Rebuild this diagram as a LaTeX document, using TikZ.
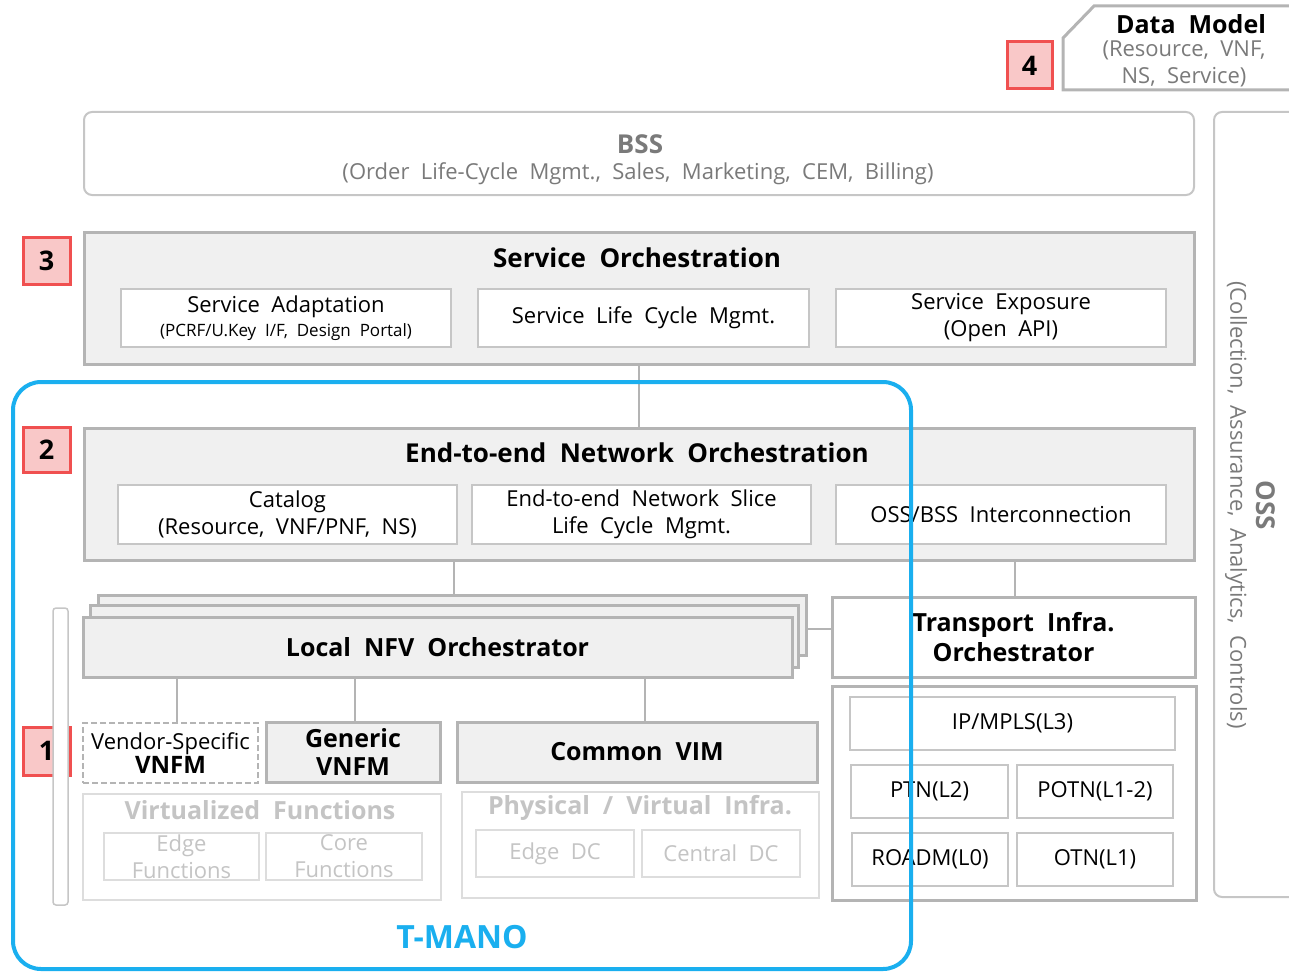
\documentclass[tikz,border=0pt]{standalone}
\usepackage{fontspec}
\setmainfont{Open Sans}[WordSpace=2]
\usetikzlibrary{calc}
\definecolor{boxfill}{HTML}{F0F0F0}
\definecolor{boxline}{HTML}{B4B4B4}
\definecolor{subline}{HTML}{C6C6C6}
\definecolor{numfill}{HTML}{F9C8C8}
\definecolor{numline}{HTML}{F05050}
\definecolor{fadeline}{HTML}{DDDDDD}
\definecolor{fadetext}{HTML}{C4C4C4}
\definecolor{graytext}{HTML}{7A7A7A}
\definecolor{tmano}{HTML}{1AAFEF}
\newcommand\fsz[2]{\fontsize{#1}{#2}\selectfont}
\tikzset{
  orch/.style={draw=boxline, fill=boxfill, line width=3pt, inner sep=0pt},
  subbox/.style={draw=subline, fill=white, line width=2pt, inner sep=0pt, align=center},
  numbox/.style={draw=numline, fill=numfill, line width=3pt, inner sep=0pt, font=\fsz{27}{30}\bfseries},
  fadebox/.style={draw=fadeline, fill=white, line width=2pt, inner sep=0pt, align=center, text=fadetext},
  conn/.style={draw=boxline, line width=2.5pt},
  txt/.style={inner sep=0pt, align=center},
}
\begin{document}
\begin{tikzpicture}[x=1pt, y=-1pt]
\useasboundingbox (0,0) rectangle (1289,971);
% Data model
\draw[draw=boxline, line width=3pt, fill=white] (1310,6) -- (1094,6) -- (1063,38) -- (1063,90) -- (1310,90);
\node[txt, font=\fsz{25}{27}\bfseries] (dmt) at (1191,24) {Data Model};
\node[txt, font=\fsz{22}{27}, text=graytext] (dms) at (1184,64) {(Resource, VNF,\\NS, Service)};
\node[numbox, minimum width=45, minimum height=47] (n4) at (1029.5,65.5) {4};
% BSS
\node[draw=subline, fill=white, line width=2pt, rounded corners=8pt, minimum width=1110, minimum height=83, inner sep=0pt] (bss) at (639,153.5) {};
\node[txt, font=\fsz{26}{28}\bfseries, text=graytext] (bsst) at (640,144) {BSS};
\node[txt, font=\fsz{22}{24}, text=graytext] (bsss) at (638,174) {(Order Life-Cycle Mgmt., Sales, Marketing, CEM, Billing)};
% OSS
\node[draw=subline, fill=white, line width=2pt, rounded corners=8pt, minimum width=96, minimum height=785, inner sep=0pt] (oss) at (1262,504.5) {};
\node[txt, rotate=-90, font=\fsz{26}{28}\bfseries, text=graytext] (osst) at (1266,505) {OSS};
\node[txt, rotate=-90, font=\fsz{22}{24}, text=graytext] (osss) at (1236,505) {(Collection, Assurance, Analytics, Controls)};
% Service Orchestration
\node[numbox, minimum width=47, minimum height=47] (n3) at (46.5,260.5) {3};
\node[orch, minimum width=1110, minimum height=132] (so) at (639,298) {};
\node[txt, font=\fsz{26}{28}\bfseries] (sot) at (637,258) {Service Orchestration};
\node[subbox, minimum width=330, minimum height=58] (sa) at (286,318) {};
\node[txt, font=\fsz{22}{24}] at (286,307) {Service Adaptation};
\node[txt, font=\fsz{17}{19}] at (286,332) {(PCRF/U.Key I/F, Design Portal)};
\node[subbox, minimum width=331, minimum height=58, font=\fsz{22}{27}] (slc) at (643.5,318) {Service Life Cycle Mgmt.};
\node[subbox, minimum width=330, minimum height=58, font=\fsz{22}{27}] (se) at (1001,318) {Service Exposure\\(Open API)};
% E2E
\node[numbox, minimum width=47, minimum height=45] (n2) at (46.5,449.5) {2};
\node[orch, minimum width=1110, minimum height=132] (e2e) at (639,494) {};
\node[txt, font=\fsz{26}{28}\bfseries] (e2et) at (637,453) {End-to-end Network Orchestration};
\node[subbox, minimum width=339, minimum height=59, font=\fsz{22}{27}] (cat) at (287.5,514.5) {Catalog\\(Resource, VNF/PNF, NS)};
\node[subbox, minimum width=339, minimum height=59, font=\fsz{22}{27}] (slice) at (641.5,514.5) {End-to-end Network Slice\\Life Cycle Mgmt.};
\node[subbox, minimum width=330, minimum height=59, font=\fsz{22}{27}] (ossbss) at (1001,514.5) {OSS/BSS Interconnection};
\draw[conn] (so) -- (e2e);
% Local NFV orchestrator stack
\node[orch, minimum width=708, minimum height=60] (back) at (452,625) {};
\node[orch, minimum width=708, minimum height=62] (mid) at (444,636) {};
\node[orch, minimum width=709, minimum height=60, font=\fsz{25}{28}\bfseries] (front) at (437.5,647) {Local NFV Orchestrator};
% Transport
\node[orch, fill=white, minimum width=363, minimum height=80, align=center, font=\fsz{25}{30}\bfseries] (tio) at (1013.5,637) {Transport Infra.\\Orchestrator};
\node[orch, fill=white, minimum width=364, minimum height=214] (tlow) at (1014,793) {};
\node[subbox, minimum width=325, minimum height=53, font=\fsz{22}{24}] (ip) at (1012.5,723.5) {IP/MPLS(L3)};
\node[subbox, minimum width=157, minimum height=53, font=\fsz{22}{24}] (ptn) at (929.5,791.5) {PTN(L2)};
\node[subbox, minimum width=156, minimum height=53, font=\fsz{22}{24}] (potn) at (1095,791.5) {POTN(L1-2)};
\node[subbox, minimum width=156, minimum height=53, font=\fsz{22}{24}] (roadm) at (930,859.5) {ROADM(L0)};
\node[subbox, minimum width=156, minimum height=53, font=\fsz{22}{24}] (otn) at (1095,859.5) {OTN(L1)};
\coordinate (x454) at (454,0);
\coordinate (x1015) at (1015,0);
\coordinate (x177) at (177,0);
\coordinate (x355) at (355,0);
\coordinate (x645) at (645,0);
\coordinate (y629) at (0,629);
\draw[conn] (e2e.south -| x454) -- (back.north -| x454);
\draw[conn] (e2e.south -| x1015) -- (tio.north -| x1015);
\draw[conn] (back.east |- y629) -- (tio.west |- y629);
% VNFM / VIM
\node[numbox, minimum width=47, minimum height=48] (n1) at (46.5,751) {1};
\node[draw=subline, fill=white, line width=1.5pt, rounded corners=3pt, minimum width=15, minimum height=297, inner sep=0pt] (bracket) at (60.5,756.5) {};
\node[draw=boxline, dash pattern=on 6pt off 3pt, line width=2pt, fill=white, minimum width=175, minimum height=60, inner sep=0pt, align=center] (vendor) at (170.5,753) {\fsz{22}{27}Vendor-Specific\\\fsz{24}{27}\bfseries VNFM};
\node[orch, minimum width=174, minimum height=60, align=center, font=\fsz{25}{28}\bfseries] (generic) at (353,752) {Generic\\VNFM};
\node[orch, minimum width=360, minimum height=60, font=\fsz{25}{28}\bfseries] (vim) at (637,752) {Common VIM};
\draw[conn] (front.south -| x177) -- (vendor.north -| x177);
\draw[conn] (front.south -| x355) -- (generic.north -| x355);
\draw[conn] (front.south -| x645) -- (vim.north -| x645);
% Faded
\node[fadebox, minimum width=358, minimum height=106] (vf) at (262,847) {};
\node[txt, font=\fsz{25}{28}\bfseries, text=fadetext] (vft) at (260,810) {Virtualized Functions};
\node[fadebox, minimum width=155, minimum height=47, font=\fsz{22}{27}] (edgef) at (181.5,856.5) {Edge\\Functions};
\node[fadebox, minimum width=156, minimum height=47, font=\fsz{22}{27}] (coref) at (344,856.5) {Core\\Functions};
\node[fadebox, minimum width=357, minimum height=106] (pvi) at (640.5,845) {};
\node[txt, font=\fsz{25}{28}\bfseries, text=fadetext] (pvit) at (640,808) {Physical / Virtual Infra.};
\node[fadebox, minimum width=158, minimum height=47, font=\fsz{22}{27}] (edgedc) at (555,853.5) {Edge DC};
\node[fadebox, minimum width=158, minimum height=47, font=\fsz{22}{27}] (centraldc) at (721,853.5) {Central DC};
% T-MANO
\draw[draw=tmano, line width=4pt, rounded corners=28pt] (13,382) rectangle (911,969);
\node[txt, font=\fsz{32}{34}\bfseries, text=tmano] (tm) at (462,937) {T-MANO};
\end{tikzpicture}
\end{document}
